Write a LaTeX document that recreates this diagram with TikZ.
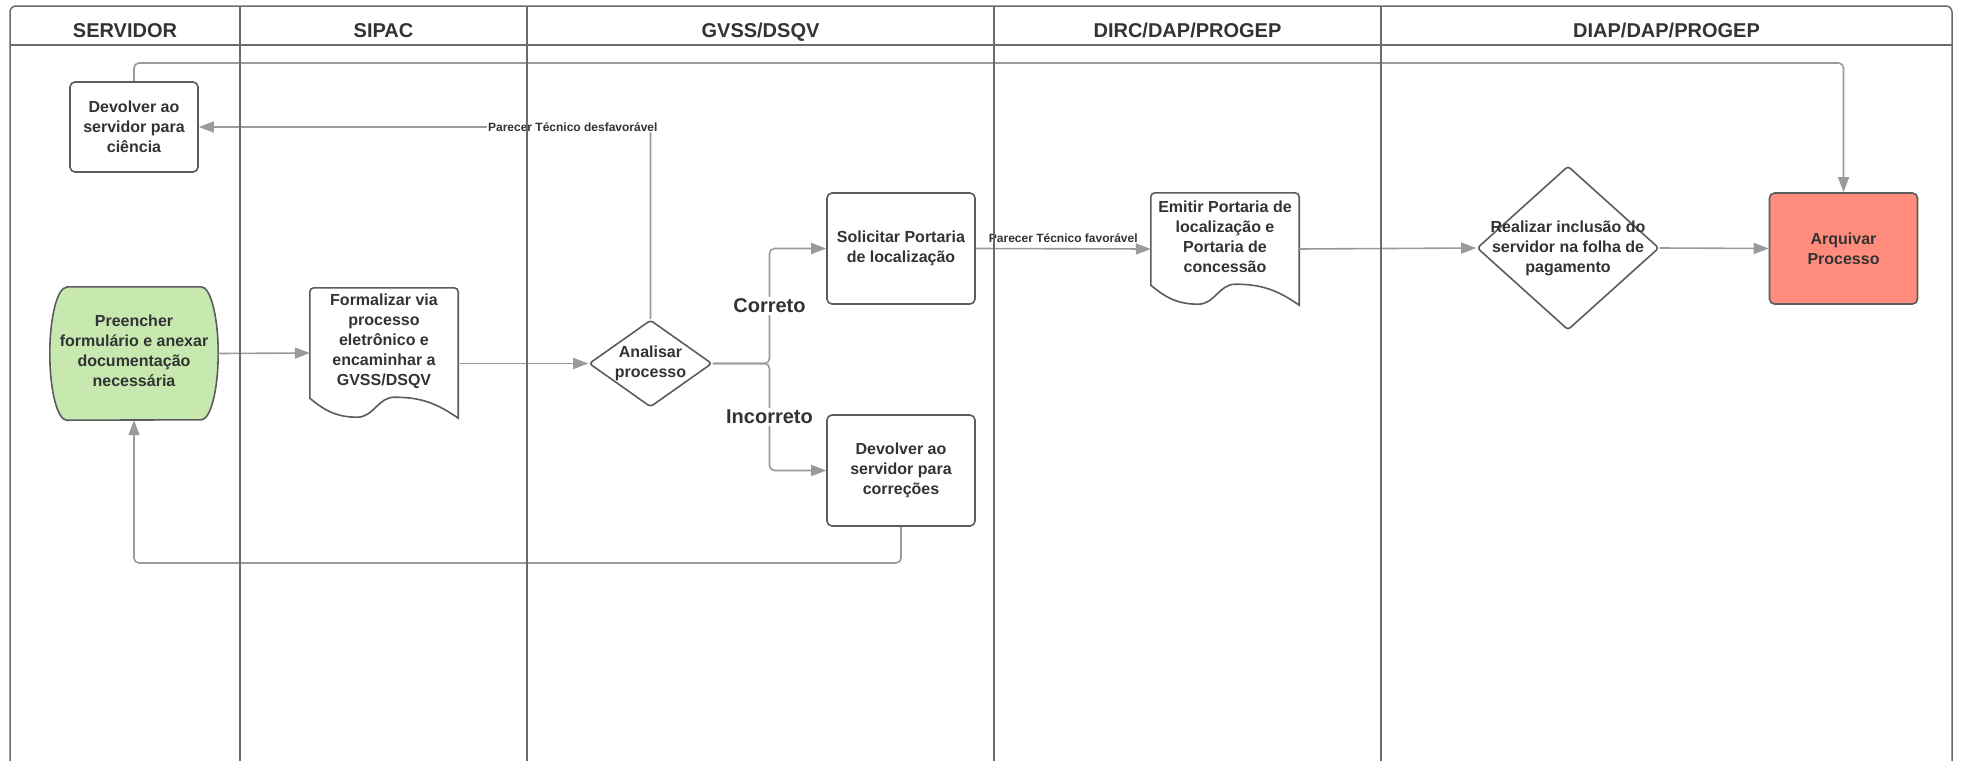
\documentclass[tikz,border=0pt]{standalone}
\usepackage{fontspec}
\setmainfont{Liberation Sans}
\usepackage{tikz}
\usetikzlibrary{shapes.geometric, calc, arrows.meta}

\definecolor{lanegray}{HTML}{6B6B6B}
\definecolor{boxgray}{HTML}{5C5C5C}
\definecolor{flowgray}{HTML}{9A9A9A}
\definecolor{txtgray}{HTML}{333333}
\definecolor{startgreen}{HTML}{C7E9B0}
\definecolor{endsalmon}{HTML}{FF8C7C}

\newcommand{\nodefont}{\bfseries\fontsize{16}{20}\selectfont}

\tikzset{
  lane/.style={draw=lanegray, line width=1.5pt},
  lanehead/.style={anchor=base, text=txtgray, font=\bfseries\fontsize{20}{22}\selectfont},
  boxline/.style={draw=boxgray, line width=1.6pt},
  task/.style={boxline, rounded corners=5pt, fill=white, minimum width=148pt, minimum height=111pt,
    align=center, font=\nodefont, text=txtgray, inner sep=0pt},
  decision/.style={boxline, diamond, rounded corners=3pt, fill=white, inner sep=0pt},
  shapebox/.style={draw=none, inner sep=0pt},
  tasktext/.style={align=center, font=\nodefont, text=txtgray, inner sep=0pt},
  flowline/.style={draw=flowgray, line width=1.6pt, rounded corners=5pt,
    -{Triangle[length=15pt, width=11pt]}},
  smalllabel/.style={fill=white, inner sep=1pt, text=txtgray, font=\bfseries\fontsize{12}{14}\selectfont},
  branchlabel/.style={fill=white, inner sep=2pt, text=txtgray, font=\bfseries\fontsize{20}{24}\selectfont}
}

% document symbol drawn round a node
\newcommand{\docoutline}[1]{%
  \draw[boxline, fill=white] let \p1=(#1.south west), \p2=(#1.north east), \n1={\x2-\x1} in
    (\x1,\y1+20pt) [rounded corners=4pt] -- (\x1,\y2) -- (\x2,\y2) [sharp corners] -- (\x2,\y1)
    to[out=145, in=0] (\x1+0.57*\n1,\y1+21pt) to[out=180, in=0] (\x1+0.32*\n1,\y1+1pt)
    to[out=180, in=-40] (\x1,\y1+20pt) -- cycle;}

\begin{document}
\begin{tikzpicture}[x=1pt, y=-1pt]
  \useasboundingbox (0,0) rectangle (1962,761);

  % headers
  \node[lanehead] (hserv) at (125,37.5) {SERVIDOR};
  \node[lanehead] (hsipac) at (383.5,37.5) {SIPAC};
  \node[lanehead] (hgvss) at (760.5,37.5) {GVSS/DSQV};
  \node[lanehead] (hdirc) at (1187.5,37.5) {DIRC/DAP/PROGEP};
  \node[lanehead] (hdiap) at (1666.5,37.5) {DIAP/DAP/PROGEP};

  % steps
  \node[task, minimum width=128pt, minimum height=90pt] (dev1) at (134,127) {Devolver ao\\servidor para\\ciência};
  \node[shapebox, minimum width=168pt, minimum height=133pt] (pre) at (134,353.5) {};
  \node[shapebox, minimum width=148pt, minimum height=130pt] (form) at (384,353) {};
  \node[decision, minimum width=123pt, minimum height=87pt] (ana) at (650.5,363.5) {};
  \node[task] (sol) at (901,248.5) {Solicitar Portaria\\de localização};
  \node[task] (dev2) at (901,470.5) {Devolver ao\\servidor para\\correções};
  \node[shapebox, minimum width=148pt, minimum height=112pt] (emi) at (1225,249) {};
  \node[decision, minimum width=182pt, minimum height=164pt] (incl) at (1568,248) {};
  \node[task, fill=endsalmon] (arq) at (1843.5,248.5) {Arquivar\\Processo};

  % outlines
  \draw[boxline, fill=startgreen] ($(pre.north west)+(17,0)$) -- ($(pre.north east)+(-17,0)$)
    arc[start angle=90, end angle=-90, x radius=17pt, y radius=66.5pt]
    -- ($(pre.south west)+(17,0)$)
    arc[start angle=270, end angle=90, x radius=17pt, y radius=66.5pt] -- cycle;
  \docoutline{form}
  \docoutline{emi}

  \node[tasktext] (pretxt) at ([yshift=2.5pt]pre.center) {Preencher\\formulário e anexar\\documentação\\necessária};
  \node[tasktext] (formtxt) at ([yshift=12pt]form.center) {Formalizar via\\processo\\eletrônico e\\encaminhar a\\GVSS/DSQV};
  \node[tasktext] (anatxt) at (ana) {Analisar\\processo};
  \node[tasktext] (emitxt) at ([yshift=12pt]emi.center) {Emitir Portaria de\\localização e\\Portaria de\\concessão};
  \node[tasktext] (incltxt) at (incl) {Realizar inclusão do\\servidor na folha de\\pagamento};

  % connectors
  \coordinate (fork) at (769.5,363.5);
  \coordinate (retlow) at (134,563);
  \coordinate (rettop) at (1843.5,63);
  \draw[flowline] (pre.east) -- (form.west);
  \draw[flowline] (form.east |- ana.west) -- (ana.west);
  \draw[flowline] (ana.east) -- (fork) |- node[pos=.25, branchlabel] (okl) {Correto} (sol.west);
  \draw[flowline] (ana.east) -- (fork) |- node[pos=.25, branchlabel] (nokl) {Incorreto} (dev2.west);
  \draw[flowline] (ana.north) |- node[pos=.586, smalllabel] (badl) {Parecer Técnico desfavorável} (dev1.east);
  \draw[flowline] (sol.east) -- node[smalllabel, above=4pt] (goodl) {Parecer Técnico favorável} (emi.west);
  \draw[flowline] (emi.east) -- (incl.west);
  \draw[flowline] (incl.east) -- (arq.west);
  \draw[flowline] (dev2.south) |- (retlow) -- (pre.south);
  \draw[flowline] (dev1.north) |- (rettop) -- (arq.north);

  % pool and lanes
  \draw[lane, rounded corners=6pt] (10,761) -- (10,6) -- (1952,6) -- (1952,761);
  \draw[lane] (10,45) -- (1952,45);
  \foreach \x in {240,527,994,1381}
    \draw[lane] (\x,6) -- (\x,761);
\end{tikzpicture}
\end{document}
